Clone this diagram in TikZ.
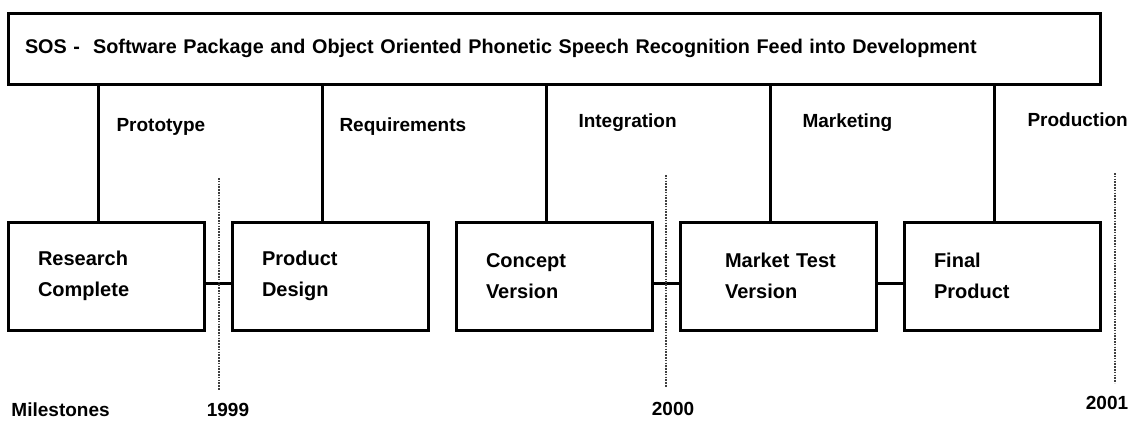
\documentclass[tikz,border=0pt]{standalone}
\usepackage{fontspec}
\setmainfont{Liberation Sans}
\usetikzlibrary{positioning}

\begin{document}
\begin{tikzpicture}[x=1pt, y=-1pt, node distance={224pt}, line width=3pt,
  font=\bfseries\fontsize{19}{31}\selectfont,
  stage/.style = {draw, minimum width=196pt, minimum height=108pt, text width=136pt, align=left, inner xsep=30pt, inner ysep=0pt, font=\bfseries\fontsize{20}{31}\selectfont},
  phase/.style = {anchor=west, inner sep=0pt},
  year/.style = {draw=black!75, line width=1.4pt, dash pattern=on 1.6pt off 1.2pt}]
\useasboundingbox (0,0) rectangle (1134,421);

\node[draw, minimum width=1092pt, minimum height=71pt, text width=1058pt, align=left, inner xsep=17pt, font=\bfseries\fontsize{19.8}{24}\selectfont] (sos) at (554,48.5) {SOS -\ \ Software Package and Object Oriented Phonetic Speech Recognition Feed into Development};

\node[stage] (1) at (106,276) {Research\\Complete};
\node[stage] (2) [right of=1] {Product\\Design};
\node[stage] (3) [right of=2] {Concept\\Version};
\node[stage] (4) [right of=3] {\hspace*{15pt}Market Test\\\hspace*{15pt}Version};
\node[stage] (5) [right of=4] {Final\\Product};

\draw ([xshift=-8pt]1.north) -- ([xshift=-8pt]1.north |- sos.south);
\draw ([xshift=-8pt]2.north) -- ([xshift=-8pt]2.north |- sos.south);
\draw ([xshift=-8pt]3.north) -- ([xshift=-8pt]3.north |- sos.south);
\draw ([xshift=-8pt]4.north) -- ([xshift=-8pt]4.north |- sos.south);
\draw ([xshift=-8pt]5.north) -- ([xshift=-8pt]5.north |- sos.south);

\draw ([yshift=-7pt]1.east) -- ([yshift=-7pt]2.west);
\draw ([yshift=-7pt]3.east) -- ([yshift=-7pt]4.west);
\draw ([yshift=-7pt]4.east) -- ([yshift=-7pt]5.west);

\node[phase] (p1) at (115,127) {Prototype};
\node[phase] (p2) at (338,127) {Requirements};
\node[phase] (p3) at (577,123) {Integration};
\node[phase] (p4) at (801,123) {Marketing};
\node[phase] (p5) at (1026,120) {Production};

\draw[year] (219,178) -- (219,390);
\draw[year] (666,175) -- (666,387);
\draw[year] (1115,173) -- (1115,383);

\node[phase] (ms) at (10,410) {Milestones};
\node (y1) at (228,410) {1999};
\node (y2) at (673,409) {2000};
\node (y3) at (1107,403) {2001};
\end{tikzpicture}
\end{document}
